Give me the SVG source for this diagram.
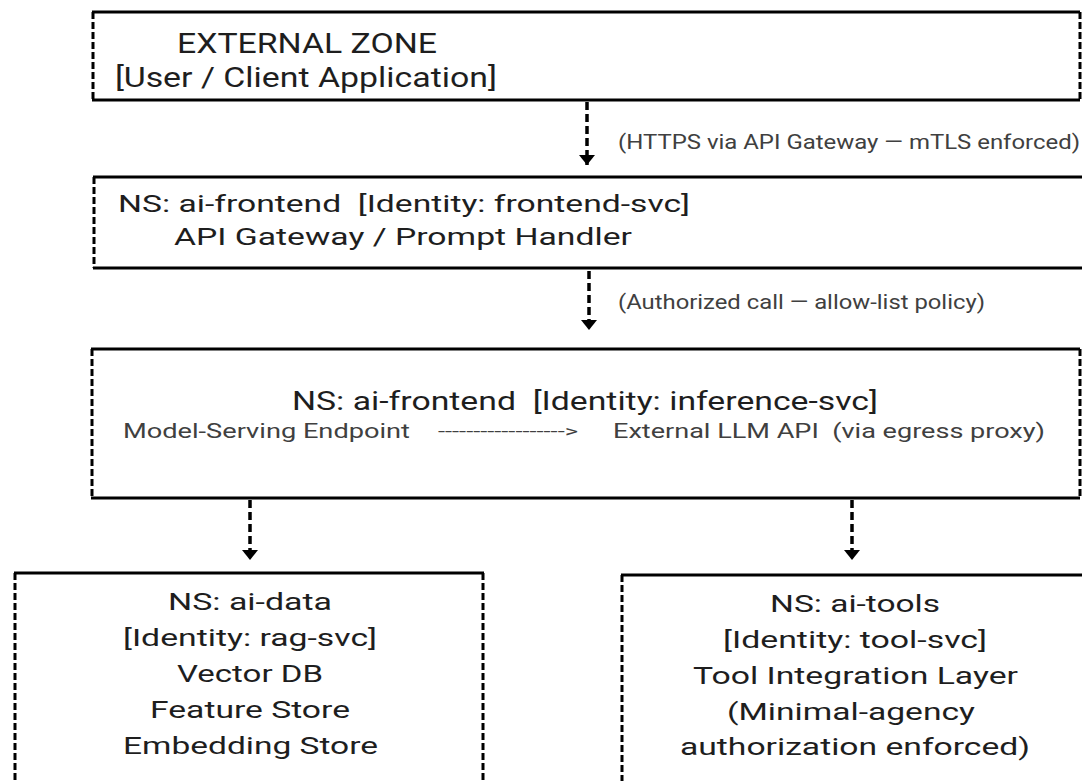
<svg xmlns="http://www.w3.org/2000/svg" width="1082" height="781" viewBox="0 0 1082 781">
  <style>
    .solid { stroke:#000; stroke-width:3; fill:none; }
    .dash { stroke:#000; stroke-width:3; stroke-dasharray:7 3; fill:none; }
    .conn { stroke:#000; stroke-width:3.5; stroke-dasharray:8 4; fill:none; }
    .t { font-family: Roboto, "Liberation Sans", sans-serif; fill:#1e1e1e; white-space:pre; }
    .lbl { fill:#404040; }
    .f28 { font-size:28px; }
    .f24 { font-size:24px; }
    .f26 { font-size:26px; }
    .f21 { font-size:21px; }
    .f20 { font-size:20px; }
  </style>
  <defs>
    <marker id="ah" viewBox="0 0 10 16" refX="10" refY="8" markerWidth="10" markerHeight="16" markerUnits="userSpaceOnUse" orient="auto">
      <path d="M0,0 L10,8 L0,16 z" fill="#000"/>
    </marker>
  </defs>
  <rect width="1082" height="781" fill="#fff"/>

  <g id="external-zone">
    <path class="solid" d="M92,12 H1080 M92,100 H1080"/>
    <path class="dash" d="M93,12 V100 M1080,12 V100"/>
    <text class="t f28" x="177" y="53" textLength="260" lengthAdjust="spacingAndGlyphs">EXTERNAL ZONE</text>
    <text class="t f28" x="115" y="87" textLength="382" lengthAdjust="spacingAndGlyphs">[User / Client Application]</text>
  </g>

  <g id="frontend-svc">
    <path class="solid" d="M93,177 H1084 M93,268 H1084"/>
    <path class="dash" d="M94,177 V268"/>
    <text class="t f24" x="118" y="212" textLength="572" lengthAdjust="spacingAndGlyphs">NS: ai-frontend  [Identity: frontend-svc]</text>
    <text class="t f24" x="174" y="245" textLength="458" lengthAdjust="spacingAndGlyphs">API Gateway / Prompt Handler</text>
  </g>

  <g id="inference-svc">
    <path class="solid" d="M91,349 H1080 M91,498 H1080"/>
    <path class="dash" d="M92,349 V498 M1080,349 V498"/>
    <text class="t f26" x="292" y="410" textLength="586" lengthAdjust="spacingAndGlyphs">NS: ai-frontend  [Identity: inference-svc]</text>
    <text class="t f21 lbl" x="123" y="438" textLength="287" lengthAdjust="spacingAndGlyphs">Model-Serving Endpoint</text>
    <text class="t lbl" style="font-size:16px" x="438" y="437" textLength="140" lengthAdjust="spacingAndGlyphs">------------------&gt;</text>
    <text class="t f21 lbl" x="613" y="438" textLength="432" lengthAdjust="spacingAndGlyphs">External LLM API  (via egress proxy)</text>
  </g>

  <g id="rag-svc">
    <path class="solid" d="M14,573 H484"/>
    <path class="dash" d="M15,573 V790 M483,573 V790"/>
    <text class="t f24" x="168" y="610" textLength="164" lengthAdjust="spacingAndGlyphs">NS: ai-data</text>
    <text class="t f24" x="123" y="646" textLength="254" lengthAdjust="spacingAndGlyphs">[Identity: rag-svc]</text>
    <text class="t f24" x="177" y="682" textLength="146" lengthAdjust="spacingAndGlyphs">Vector DB</text>
    <text class="t f24" x="150" y="718" textLength="200" lengthAdjust="spacingAndGlyphs">Feature Store</text>
    <text class="t f24" x="123" y="754" textLength="255" lengthAdjust="spacingAndGlyphs">Embedding Store</text>
  </g>

  <g id="tool-svc">
    <path class="solid" d="M621,575 H1084"/>
    <path class="dash" d="M622,575 V790"/>
    <text class="t f24" x="770" y="612" textLength="170" lengthAdjust="spacingAndGlyphs">NS: ai-tools</text>
    <text class="t f24" x="723" y="648" textLength="264" lengthAdjust="spacingAndGlyphs">[Identity: tool-svc]</text>
    <text class="t f24" x="693" y="684" textLength="325" lengthAdjust="spacingAndGlyphs">Tool Integration Layer</text>
    <text class="t f24" x="727" y="720" textLength="248" lengthAdjust="spacingAndGlyphs">(Minimal-agency</text>
    <text class="t f24" x="680" y="755" textLength="350" lengthAdjust="spacingAndGlyphs">authorization enforced)</text>
  </g>

  <g id="connectors">
    <path class="conn" d="M587,102 V165" marker-end="url(#ah)"/>
    <text class="t f20 lbl" x="618" y="149" textLength="462" lengthAdjust="spacingAndGlyphs">(HTTPS via API Gateway — mTLS enforced)</text>
    <path class="conn" d="M589,271 V330" marker-end="url(#ah)"/>
    <text class="t f20 lbl" x="618" y="309" textLength="367" lengthAdjust="spacingAndGlyphs">(Authorized call — allow-list policy)</text>
    <path class="conn" d="M250,500 V560" marker-end="url(#ah)"/>
    <path class="conn" d="M852,500 V560" marker-end="url(#ah)"/>
  </g>
</svg>
